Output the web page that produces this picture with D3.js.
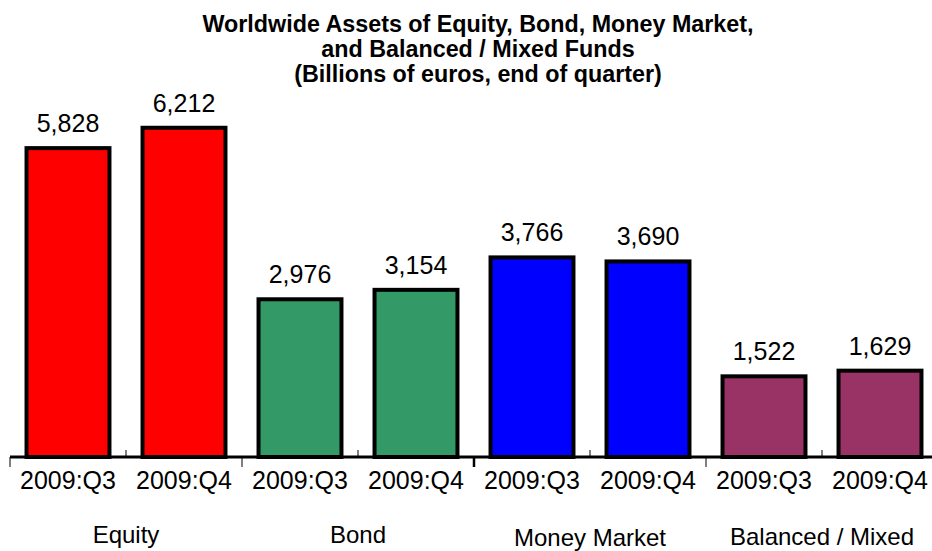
<!DOCTYPE html>
<html>
<head>
<meta charset="utf-8">
<script src="https://cdn.jsdelivr.net/npm/d3@7"></script>
<style>
  body { margin: 0; background: #fff; }
  svg { display: block; font-family: "Liberation Sans", Arial, sans-serif; }
</style>
</head>
<body>
<div id="chart"></div>
<script>
// data
const groups = ["Equity", "Bond", "Money Market", "Balanced / Mixed"]
const quarters = ["2009:Q3", "2009:Q4"]
const values = [5828, 6212, 2976, 3154, 3766, 3690, 1522, 1629]
const groupColors = ["#ff0000", "#339966", "#0000ff", "#993366"]
const titleLines = ["Worldwide Assets of Equity, Bond, Money Market,",
                    "and Balanced / Mixed Funds",
                    "(Billions of euros, end of quarter)"]

const width = 932, height = 551
const axisY = 457

// flat table built from the arrays above
const rows = []
groups.forEach((g, gi) => quarters.forEach((q, qi) => {
    rows.push({group: g, gi, quarter: q, key: g + "|" + q, value: values[gi * quarters.length + qi]})
}))

const svg = d3.select("#chart").append("svg")
    .attr("width", width)
    .attr("height", height)

const x = d3.scaleBand()
    .domain(rows.map(d => d.key))
    .range([10, 938])
    .paddingInner(0.285)
    .paddingOuter(0.1425)

const xg = d3.scaleBand()
    .domain(groups)
    .range([10, 938])

const y = d3.scaleLinear()
    .domain([0, 7000])
    .range([axisY, axisY - 0.053 * 7000])

// title
svg.append("g")
    .selectAll("text")
    .data(titleLines)
    .join("text")
    .attr("x", 478)
    .attr("y", (d, i) => 32 + i * 25)
    .attr("text-anchor", "middle")
    .attr("font-size", "23.3px")
    .attr("font-weight", "bold")
    .text(d => d)

// bars
svg.append("g")
    .selectAll("rect")
    .data(rows)
    .join("rect")
    .attr("x", d => x(d.key))
    .attr("y", d => y(d.value))
    .attr("width", x.bandwidth())
    .attr("height", d => axisY - y(d.value))
    .attr("fill", d => groupColors[d.gi])
    .attr("stroke", "#000")
    .attr("stroke-width", 4)

// value labels
svg.append("g")
    .selectAll("text")
    .data(rows)
    .join("text")
    .attr("x", d => x(d.key) + x.bandwidth() / 2)
    .attr("y", d => y(d.value) - 16)
    .attr("text-anchor", "middle")
    .attr("font-size", "25px")
    .text(d => d3.format(",")(d.value))

// axis line + ticks
const ax = svg.append("g")
ax.append("line")
    .attr("x1", 10).attr("x2", width)
    .attr("y1", axisY).attr("y2", axisY)
    .attr("stroke", "#000").attr("stroke-width", 3)

// small upward ticks between the two quarters of a group
ax.selectAll(".minor")
    .data(groups)
    .join("line")
    .attr("class", "minor")
    .attr("x1", d => xg(d) + xg.bandwidth() / 2)
    .attr("x2", d => xg(d) + xg.bandwidth() / 2)
    .attr("y1", axisY - 7).attr("y2", axisY)
    .attr("stroke", "#000").attr("stroke-width", 1)

// downward ticks at group boundaries
ax.selectAll(".major")
    .data(groups)
    .join("line")
    .attr("class", "major")
    .attr("x1", d => xg(d))
    .attr("x2", d => xg(d))
    .attr("y1", axisY).attr("y2", axisY + 10)
    .attr("stroke", "#000").attr("stroke-width", (d, i) => i == 2 ? 2.5 : 1)

// quarter labels
svg.append("g")
    .selectAll("text")
    .data(rows)
    .join("text")
    .attr("x", d => x(d.key) + x.bandwidth() / 2)
    .attr("y", 489)
    .attr("text-anchor", "middle")
    .attr("font-size", "25px")
    .text(d => d.quarter)

// group labels (the original sits them at slightly different heights)
const groupLabelY = [543, 543, 546, 545]
svg.append("g")
    .selectAll("text")
    .data(groups)
    .join("text")
    .attr("x", d => xg(d) + xg.bandwidth() / 2)
    .attr("y", (d, i) => groupLabelY[i])
    .attr("text-anchor", "middle")
    .attr("font-size", "24px")
    .text(d => d)
</script>
</body>
</html>
